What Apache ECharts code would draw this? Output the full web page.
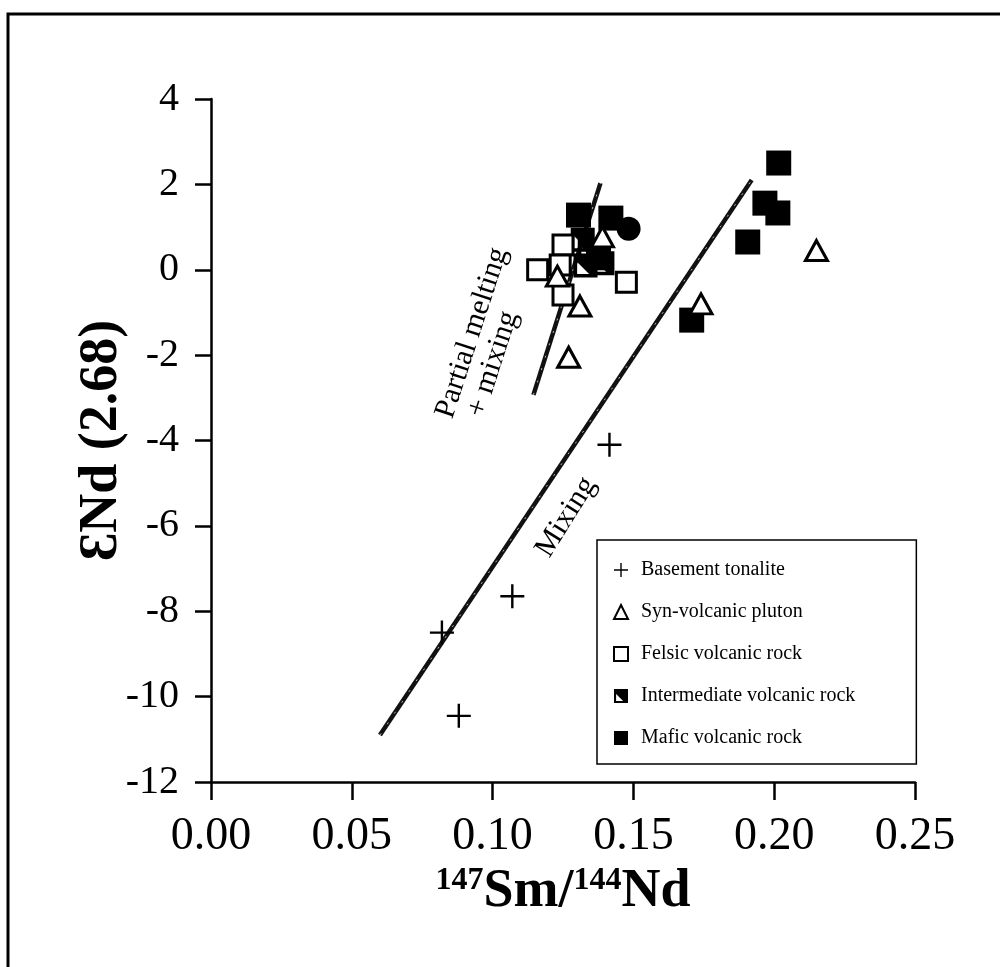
<!DOCTYPE html>
<html>
<head>
<meta charset="utf-8">
<script src="https://cdn.jsdelivr.net/npm/echarts@6/dist/echarts.min.js"></script>
<style>
  html, body { margin: 0; padding: 0; background: #fff; }
  #chart { width: 1000px; height: 967px; }
</style>
</head>
<body>
<div id="chart"></div>
<script>
// 147Sm/144Nd vs eNd(2.68) per rock group
const basementTonalite = [[0.082, -8.5], [0.088, -10.45], [0.107, -7.65], [0.1415, -4.1]];
const synVolcanicPluton = [[0.215, 0.45], [0.174, -0.8], [0.127, -2.05], [0.131, -0.85], [0.139, 0.77], [0.123, -0.15]];
const felsicVolcanic = [[0.116, 0.0], [0.125, 0.58], [0.124, 0.11], [0.125, -0.59], [0.1475, -0.29]];
const intermediateVolcanic = [[0.132, 0.7], [0.133, 0.1], [0.139, 0.15], [0.1345, 0.45]];
const maficVolcanic = [[0.1305, 1.28], [0.142, 1.21], [0.1376, 0.28], [0.2016, 2.5], [0.1967, 1.56], [0.2013, 1.33], [0.1906, 0.65], [0.1707, -1.18]];
const maficCircle = [[0.1483, 0.96]];

// trend lines
const mixingLine = [[0.06, -10.9], [0.192, 2.1]];
const meltingLine = [[0.1145, -2.93], [0.1383, 2.03]];

const xTicks = { min: 0, max: 0.25, step: 0.05 };
const yTicks = { min: -12, max: 4, step: 2 };

const SERIF = '"Liberation Serif", "Times New Roman", serif';
const PLUS = 'path://M9,0 H11 V9 H20 V11 H11 V20 H9 V11 H0 V9 H9 Z';
const HALF = 'path://M0,0 H20 V20 H0 Z M3,7 L3,17 L13,17 Z';

const chart = echarts.init(document.getElementById('chart'));

// thick trend line with a faint speckled core
function trend(data) {
  return [
    { type: 'line', data: data, symbol: 'none', silent: true, z: 1,
      lineStyle: { color: '#111', width: 4.5 } },
    { type: 'line', data: data, symbol: 'none', silent: true, z: 1,
      lineStyle: { color: '#bbb', width: 1, type: [2, 11] } }
  ];
}

chart.setOption({
  animation: false,
  backgroundColor: '#fff',
  grid: { left: 211, right: 85, top: 99, bottom: 185 },
  xAxis: {
    type: 'value', min: xTicks.min, max: xTicks.max, interval: xTicks.step,
    splitLine: { show: false },
    axisLine: { onZero: false, lineStyle: { color: '#000', width: 2.5 } },
    axisTick: { inside: false, length: 18, lineStyle: { color: '#000', width: 2.5 } },
    axisLabel: { margin: 32, color: '#000', fontFamily: SERIF, fontSize: 46, formatter: v => v.toFixed(2) },
    name: '{sup|147}{b|Sm/}{sup|144}{b|Nd}',
    nameLocation: 'middle', nameGap: 80,
    nameTextStyle: {
      rich: {
        sup: { fontFamily: SERIF, fontWeight: 'bold', fontSize: 32, color: '#000', verticalAlign: 'top', padding: [0, 0, 18, 0] },
        b: { fontFamily: SERIF, fontWeight: 'bold', fontSize: 54, color: '#000' }
      }
    }
  },
  yAxis: {
    type: 'value', min: yTicks.min, max: yTicks.max, interval: yTicks.step,
    splitLine: { show: false },
    axisLine: { onZero: false, lineStyle: { color: '#000', width: 2.5 } },
    axisTick: { inside: false, length: 16, lineStyle: { color: '#000', width: 2.5 } },
    axisLabel: { margin: 32, color: '#000', fontFamily: SERIF, fontSize: 40 },
    name: 'ƐNd (2.68)',
    nameLocation: 'middle', nameGap: 82, nameRotate: 90, nameMoveOverlap: false,
    nameTextStyle: { fontFamily: SERIF, fontWeight: 'bold', fontSize: 54, color: '#000' }
  },
  legend: {
    orient: 'vertical', left: 597, top: 540,
    padding: [20, 61, 16, 16],
    itemGap: 22, itemWidth: 14, itemHeight: 14,
    borderColor: '#000', borderWidth: 1.5,
    backgroundColor: '#fff',
    textStyle: { fontFamily: SERIF, fontSize: 20, color: '#000', padding: [0, 0, 0, 8] },
    data: [
      { name: 'Basement tonalite', icon: PLUS },
      { name: 'Syn-volcanic pluton', icon: 'triangle', itemStyle: { borderWidth: 2 } },
      { name: 'Felsic volcanic rock', icon: 'rect', itemStyle: { borderWidth: 2 } },
      { name: 'Intermediate volcanic rock', icon: HALF },
      { name: 'Mafic volcanic rock', icon: 'rect' }
    ]
  },
  graphic: [
    { type: 'rect', shape: { x: 8, y: 14, width: 1200, height: 1200 }, style: { fill: 'none', stroke: '#000', lineWidth: 3 }, silent: true },
    { type: 'text', x: 472, y: 333, rotation: 72 * Math.PI / 180,
      style: { text: 'Partial melting', fontFamily: SERIF, fontSize: 30, fill: '#000', textAlign: 'center', textVerticalAlign: 'middle' } },
    { type: 'text', x: 493, y: 364, rotation: 72 * Math.PI / 180,
      style: { text: '+ mixing', fontFamily: SERIF, fontSize: 30, fill: '#000', textAlign: 'center', textVerticalAlign: 'middle' } },
    { type: 'text', x: 566, y: 517, rotation: 58 * Math.PI / 180,
      style: { text: 'Mixing', fontFamily: SERIF, fontSize: 30, fill: '#000', textAlign: 'center', textVerticalAlign: 'middle' } }
  ],
  series: [
    ...trend(mixingLine),
    ...trend(meltingLine),
    { name: 'Mafic volcanic rock', type: 'scatter', data: maficVolcanic, symbol: 'rect', symbolSize: 25, z: 2,
      itemStyle: { color: '#000', opacity: 1 } },
    { name: 'Mafic volcanic rock', type: 'scatter', data: maficCircle, symbol: 'circle', symbolSize: 24, z: 2,
      itemStyle: { color: '#000', opacity: 1 } },
    { name: 'Intermediate volcanic rock', type: 'scatter', data: intermediateVolcanic, symbol: HALF, symbolSize: 24, z: 3,
      itemStyle: { color: '#000', opacity: 1 } },
    { name: 'Felsic volcanic rock', type: 'scatter', data: felsicVolcanic, symbol: 'rect', symbolSize: 20, z: 4,
      itemStyle: { color: '#fff', borderColor: '#000', borderWidth: 3, opacity: 1 } },
    { name: 'Syn-volcanic pluton', type: 'scatter', data: synVolcanicPluton, symbol: 'triangle', symbolSize: [22, 20], z: 5,
      itemStyle: { color: '#fff', borderColor: '#000', borderWidth: 3, opacity: 1 } },
    { name: 'Basement tonalite', type: 'scatter', data: basementTonalite, symbol: PLUS, symbolSize: 24, z: 6,
      itemStyle: { color: '#000', opacity: 1 } }
  ]
});
</script>
</body>
</html>
